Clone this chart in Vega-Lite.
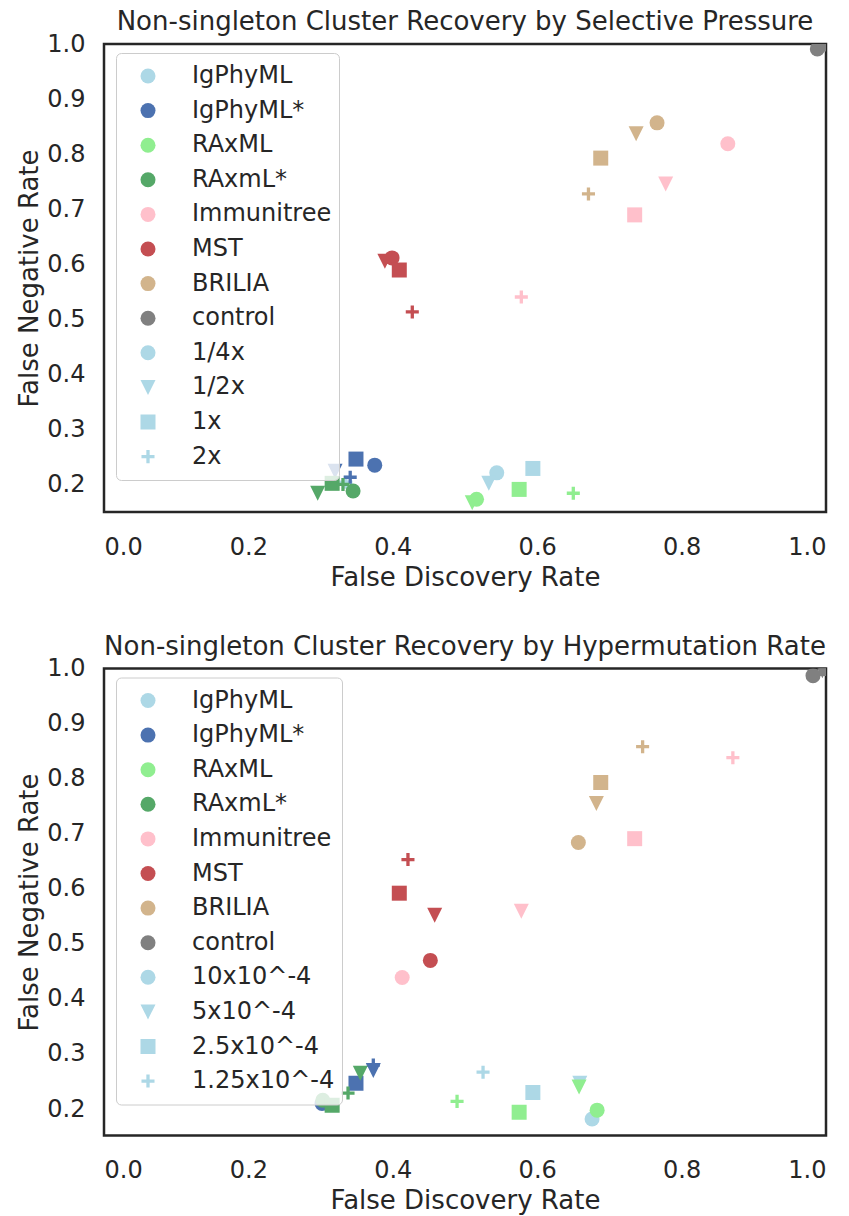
{
  "$schema": "https://vega.github.io/schema/vega-lite/v6.json",
  "padding": {"left": 15, "top": 7, "right": 10, "bottom": 5},
  "config": {
    "font": "DejaVu Sans",
    "view": {"stroke": "#262626", "strokeWidth": 2.5},
    "axis": {"grid": false, "ticks": false, "domain": false, "labelFontSize": 24, "titleFontSize": 26, "labelColor": "#262626", "titleColor": "#262626", "titleFontWeight": "normal", "labelFont": "DejaVu Sans", "titleFont": "DejaVu Sans"},
    "axisX": {"labelPadding": 23, "titlePadding": 5},
    "axisY": {"labelPadding": 19, "titlePadding": 4},
    "title": {"fontSize": 26, "fontWeight": "normal", "color": "#262626", "offset": -3, "font": "DejaVu Sans"},
    "legend": {"labelFontSize": 24, "labelColor": "#262626", "labelFont": "DejaVu Sans", "symbolSize": 225, "padding": 7, "clipHeight": 32, "rowPadding": 2.6, "labelOffset": 32, "symbolOffset": 13, "fillColor": "rgba(255,255,255,0.8)", "strokeColor": "#cccccc", "cornerRadius": 5, "orient": "none", "legendX": 12, "legendY": 9, "symbolStrokeWidth": 0}
  },
  "datasets": {
    "sel": [
      {"method": "IgPhyML", "cond": "1/4x", "FDR": 0.544, "FNR": 0.222},
      {"method": "IgPhyML", "cond": "1/2x", "FDR": 0.533, "FNR": 0.203},
      {"method": "IgPhyML", "cond": "1x", "FDR": 0.594, "FNR": 0.230},
      {"method": "IgPhyML", "cond": "2x", "FDR": 0.335, "FNR": 0.205},
      {"method": "IgPhyML*", "cond": "1/4x", "FDR": 0.375, "FNR": 0.236},
      {"method": "IgPhyML*", "cond": "1/2x", "FDR": 0.320, "FNR": 0.225},
      {"method": "IgPhyML*", "cond": "1x", "FDR": 0.349, "FNR": 0.247},
      {"method": "IgPhyML*", "cond": "2x", "FDR": 0.341, "FNR": 0.214},
      {"method": "RAxML", "cond": "1/4x", "FDR": 0.516, "FNR": 0.174},
      {"method": "RAxML", "cond": "1/2x", "FDR": 0.510, "FNR": 0.168},
      {"method": "RAxML", "cond": "1x", "FDR": 0.575, "FNR": 0.192},
      {"method": "RAxML", "cond": "2x", "FDR": 0.650, "FNR": 0.185},
      {"method": "RAxmL*", "cond": "1/4x", "FDR": 0.345, "FNR": 0.189},
      {"method": "RAxmL*", "cond": "1/2x", "FDR": 0.296, "FNR": 0.185},
      {"method": "RAxmL*", "cond": "1x", "FDR": 0.316, "FNR": 0.203},
      {"method": "RAxmL*", "cond": "2x", "FDR": 0.331, "FNR": 0.201},
      {"method": "Immunitree", "cond": "1/4x", "FDR": 0.864, "FNR": 0.819},
      {"method": "Immunitree", "cond": "1/2x", "FDR": 0.778, "FNR": 0.746},
      {"method": "Immunitree", "cond": "1x", "FDR": 0.735, "FNR": 0.690},
      {"method": "Immunitree", "cond": "2x", "FDR": 0.578, "FNR": 0.541},
      {"method": "MST", "cond": "1/4x", "FDR": 0.399, "FNR": 0.612},
      {"method": "MST", "cond": "1/2x", "FDR": 0.389, "FNR": 0.606},
      {"method": "MST", "cond": "1x", "FDR": 0.409, "FNR": 0.590},
      {"method": "MST", "cond": "2x", "FDR": 0.427, "FNR": 0.514},
      {"method": "BRILIA", "cond": "1/4x", "FDR": 0.766, "FNR": 0.857},
      {"method": "BRILIA", "cond": "1/2x", "FDR": 0.737, "FNR": 0.837},
      {"method": "BRILIA", "cond": "1x", "FDR": 0.688, "FNR": 0.793},
      {"method": "BRILIA", "cond": "2x", "FDR": 0.671, "FNR": 0.728},
      {"method": "control", "cond": "1/4x", "FDR": 0.988, "FNR": 0.991},
      {"method": "control", "cond": "1/2x", "FDR": 0.995, "FNR": 0.996},
      {"method": "control", "cond": "1x", "FDR": 1.0, "FNR": 1.0},
      {"method": "control", "cond": "2x", "FDR": 1.0, "FNR": 1.0}
    ],
    "hyp": [
      {"method": "IgPhyML", "cond": "10x10^-4", "FDR": 0.676, "FNR": 0.182},
      {"method": "IgPhyML", "cond": "5x10^-4", "FDR": 0.659, "FNR": 0.247},
      {"method": "IgPhyML", "cond": "2.5x10^-4", "FDR": 0.594, "FNR": 0.230},
      {"method": "IgPhyML", "cond": "1.25x10^-4", "FDR": 0.525, "FNR": 0.267},
      {"method": "IgPhyML*", "cond": "10x10^-4", "FDR": 0.302, "FNR": 0.210},
      {"method": "IgPhyML*", "cond": "5x10^-4", "FDR": 0.373, "FNR": 0.270},
      {"method": "IgPhyML*", "cond": "2.5x10^-4", "FDR": 0.349, "FNR": 0.247},
      {"method": "IgPhyML*", "cond": "1.25x10^-4", "FDR": 0.373, "FNR": 0.280},
      {"method": "RAxML", "cond": "10x10^-4", "FDR": 0.683, "FNR": 0.198},
      {"method": "RAxML", "cond": "5x10^-4", "FDR": 0.658, "FNR": 0.240},
      {"method": "RAxML", "cond": "2.5x10^-4", "FDR": 0.575, "FNR": 0.194},
      {"method": "RAxML", "cond": "1.25x10^-4", "FDR": 0.489, "FNR": 0.214},
      {"method": "RAxmL*", "cond": "10x10^-4", "FDR": 0.303, "FNR": 0.216},
      {"method": "RAxmL*", "cond": "5x10^-4", "FDR": 0.355, "FNR": 0.265},
      {"method": "RAxmL*", "cond": "2.5x10^-4", "FDR": 0.316, "FNR": 0.207},
      {"method": "RAxmL*", "cond": "1.25x10^-4", "FDR": 0.338, "FNR": 0.229},
      {"method": "Immunitree", "cond": "10x10^-4", "FDR": 0.413, "FNR": 0.439},
      {"method": "Immunitree", "cond": "5x10^-4", "FDR": 0.578, "FNR": 0.559},
      {"method": "Immunitree", "cond": "2.5x10^-4", "FDR": 0.735, "FNR": 0.691},
      {"method": "Immunitree", "cond": "1.25x10^-4", "FDR": 0.871, "FNR": 0.838},
      {"method": "MST", "cond": "10x10^-4", "FDR": 0.452, "FNR": 0.470},
      {"method": "MST", "cond": "5x10^-4", "FDR": 0.458, "FNR": 0.552},
      {"method": "MST", "cond": "2.5x10^-4", "FDR": 0.409, "FNR": 0.592},
      {"method": "MST", "cond": "1.25x10^-4", "FDR": 0.421, "FNR": 0.653},
      {"method": "BRILIA", "cond": "10x10^-4", "FDR": 0.657, "FNR": 0.684},
      {"method": "BRILIA", "cond": "5x10^-4", "FDR": 0.682, "FNR": 0.755},
      {"method": "BRILIA", "cond": "2.5x10^-4", "FDR": 0.688, "FNR": 0.793},
      {"method": "BRILIA", "cond": "1.25x10^-4", "FDR": 0.746, "FNR": 0.858},
      {"method": "control", "cond": "10x10^-4", "FDR": 0.982, "FNR": 0.987},
      {"method": "control", "cond": "5x10^-4", "FDR": 0.995, "FNR": 0.996},
      {"method": "control", "cond": "2.5x10^-4", "FDR": 1.0, "FNR": 1.0},
      {"method": "control", "cond": "1.25x10^-4", "FDR": 1.0, "FNR": 1.0}
    ],
    "legSel": [
      {"label": "IgPhyML"}, {"label": "IgPhyML*"}, {"label": "RAxML"}, {"label": "RAxmL*"},
      {"label": "Immunitree"}, {"label": "MST"}, {"label": "BRILIA"}, {"label": "control"},
      {"label": "1/4x"}, {"label": "1/2x"}, {"label": "1x"}, {"label": "2x"}
    ],
    "legHyp": [
      {"label": "IgPhyML"}, {"label": "IgPhyML*"}, {"label": "RAxML"}, {"label": "RAxmL*"},
      {"label": "Immunitree"}, {"label": "MST"}, {"label": "BRILIA"}, {"label": "control"},
      {"label": "10x10^-4"}, {"label": "5x10^-4"}, {"label": "2.5x10^-4"}, {"label": "1.25x10^-4"}
    ]
  },
  "spacing": 39.5,
  "vconcat": [
    {
      "title": "Non-singleton Cluster Recovery by Selective Pressure",
      "width": 722,
      "height": 468,
      "layer": [
        {
          "data": {"name": "sel"},
          "mark": {"type": "point", "filled": true, "opacity": 1, "size": 225, "clip": true},
          "encoding": {
            "x": {"field": "FDR", "type": "quantitative", "scale": {"domain": [0, 1], "nice": false, "zero": false}, "axis": {"title": "False Discovery Rate", "values": [0, 0.2, 0.4, 0.6, 0.8, 1], "format": ".1f"}},
            "y": {"field": "FNR", "type": "quantitative", "scale": {"domain": [0.151, 1], "nice": false, "zero": false}, "axis": {"title": "False Negative Rate", "values": [0.2, 0.3, 0.4, 0.5, 0.6, 0.7, 0.8, 0.9, 1.0], "format": ".1f"}},
            "color": {"field": "method", "type": "nominal", "scale": {"domain": ["IgPhyML", "IgPhyML*", "RAxML", "RAxmL*", "Immunitree", "MST", "BRILIA", "control"], "range": ["#add8e6", "#4c72b0", "#90ee90", "#55a868", "#ffc0cb", "#c44e52", "#d2b48c", "#808080"]}, "legend": null},
            "shape": {"field": "cond", "type": "nominal", "scale": {"domain": ["1/4x", "1/2x", "1x", "2x"], "range": ["circle", "M-1,-1L1,-1L0,1Z", "square", "M-0.22,-0.87H0.22V-0.22H0.87V0.22H0.22V0.87H-0.22V0.22H-0.87V-0.22H-0.22Z"]}, "legend": null}
          }
        },
        {
          "data": {"name": "legSel"},
          "mark": {"type": "point", "filled": true, "opacity": 1, "size": 225},
          "encoding": {
            "x": {"field": "FDR", "type": "quantitative"},
            "y": {"field": "FNR", "type": "quantitative"},
            "color": {"field": "label", "type": "nominal", "scale": {"domain": ["IgPhyML", "IgPhyML*", "RAxML", "RAxmL*", "Immunitree", "MST", "BRILIA", "control", "1/4x", "1/2x", "1x", "2x"], "range": ["#add8e6", "#4c72b0", "#90ee90", "#55a868", "#ffc0cb", "#c44e52", "#d2b48c", "#808080", "#add8e6", "#add8e6", "#add8e6", "#add8e6"]}, "legend": {"title": null}},
            "shape": {"field": "label", "type": "nominal", "scale": {"domain": ["IgPhyML", "IgPhyML*", "RAxML", "RAxmL*", "Immunitree", "MST", "BRILIA", "control", "1/4x", "1/2x", "1x", "2x"], "range": ["circle", "circle", "circle", "circle", "circle", "circle", "circle", "circle", "circle", "M-1,-1L1,-1L0,1Z", "square", "M-0.22,-0.87H0.22V-0.22H0.87V0.22H0.22V0.87H-0.22V0.22H-0.87V-0.22H-0.22Z"]}, "legend": {"title": null}}
          }
        }
      ],
      "resolve": {"scale": {"color": "independent", "shape": "independent"}}
    },
    {
      "title": "Non-singleton Cluster Recovery by Hypermutation Rate",
      "width": 722,
      "height": 467,
      "layer": [
        {
          "data": {"name": "hyp"},
          "mark": {"type": "point", "filled": true, "opacity": 1, "size": 225, "clip": true},
          "encoding": {
            "x": {"field": "FDR", "type": "quantitative", "scale": {"domain": [0, 1], "nice": false, "zero": false}, "axis": {"title": "False Discovery Rate", "values": [0, 0.2, 0.4, 0.6, 0.8, 1], "format": ".1f"}},
            "y": {"field": "FNR", "type": "quantitative", "scale": {"domain": [0.152, 1], "nice": false, "zero": false}, "axis": {"title": "False Negative Rate", "values": [0.2, 0.3, 0.4, 0.5, 0.6, 0.7, 0.8, 0.9, 1.0], "format": ".1f"}},
            "color": {"field": "method", "type": "nominal", "scale": {"domain": ["IgPhyML", "IgPhyML*", "RAxML", "RAxmL*", "Immunitree", "MST", "BRILIA", "control"], "range": ["#add8e6", "#4c72b0", "#90ee90", "#55a868", "#ffc0cb", "#c44e52", "#d2b48c", "#808080"]}, "legend": null},
            "shape": {"field": "cond", "type": "nominal", "scale": {"domain": ["10x10^-4", "5x10^-4", "2.5x10^-4", "1.25x10^-4"], "range": ["circle", "M-1,-1L1,-1L0,1Z", "square", "M-0.22,-0.87H0.22V-0.22H0.87V0.22H0.22V0.87H-0.22V0.22H-0.87V-0.22H-0.22Z"]}, "legend": null}
          }
        },
        {
          "data": {"name": "legHyp"},
          "mark": {"type": "point", "filled": true, "opacity": 1, "size": 225},
          "encoding": {
            "x": {"field": "FDR", "type": "quantitative"},
            "y": {"field": "FNR", "type": "quantitative"},
            "color": {"field": "label", "type": "nominal", "scale": {"domain": ["IgPhyML", "IgPhyML*", "RAxML", "RAxmL*", "Immunitree", "MST", "BRILIA", "control", "10x10^-4", "5x10^-4", "2.5x10^-4", "1.25x10^-4"], "range": ["#add8e6", "#4c72b0", "#90ee90", "#55a868", "#ffc0cb", "#c44e52", "#d2b48c", "#808080", "#add8e6", "#add8e6", "#add8e6", "#add8e6"]}, "legend": {"title": null}},
            "shape": {"field": "label", "type": "nominal", "scale": {"domain": ["IgPhyML", "IgPhyML*", "RAxML", "RAxmL*", "Immunitree", "MST", "BRILIA", "control", "10x10^-4", "5x10^-4", "2.5x10^-4", "1.25x10^-4"], "range": ["circle", "circle", "circle", "circle", "circle", "circle", "circle", "circle", "circle", "M-1,-1L1,-1L0,1Z", "square", "M-0.22,-0.87H0.22V-0.22H0.87V0.22H0.22V0.87H-0.22V0.22H-0.87V-0.22H-0.22Z"]}, "legend": {"title": null}}
          }
        }
      ],
      "resolve": {"scale": {"color": "independent", "shape": "independent"}}
    }
  ]
}
